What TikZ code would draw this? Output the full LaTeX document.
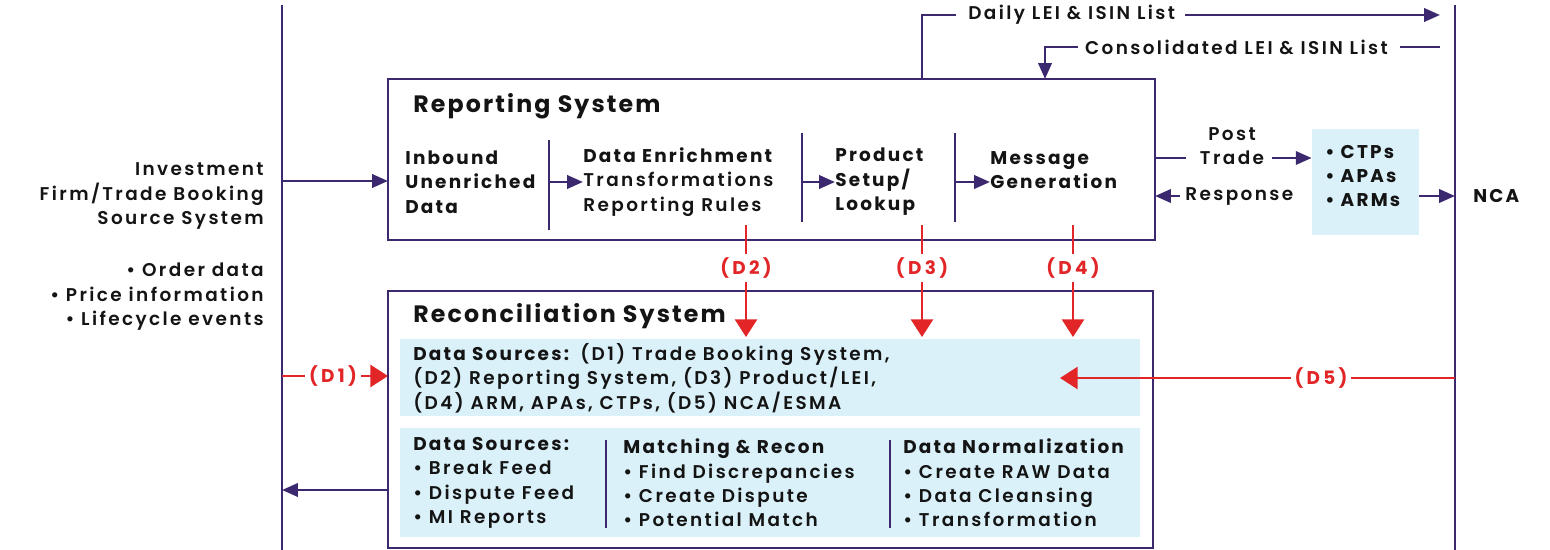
\documentclass[tikz,border=0pt]{standalone}
\usepackage{fontspec}
\setmainfont{Poppins}[UprightFont=* SemiBold, BoldFont=* Bold, UprightFeatures={LetterSpace=13}, BoldFeatures={LetterSpace=12}]
\newfontfamily\titlefont{Poppins Bold}[LetterSpace=9]
\newfontfamily\labelfont{Poppins Bold}[LetterSpace=18]
\usetikzlibrary{arrows.meta, positioning}
\definecolor{linepurple}{RGB}{60,40,110}
\definecolor{datared}{RGB}{226,38,40}
\definecolor{panelblue}{RGB}{218,241,249}
\definecolor{inkblack}{RGB}{20,20,20}

\begin{document}
\begin{tikzpicture}[x=0.02cm, y=-0.02cm,
  line/.style={draw=linepurple, line width=1.6pt},
  flow/.style={line, -{Triangle[length=9pt,width=7.5pt]}},
  redline/.style={draw=datared, line width=1.4pt},
  redflow/.style={redline, -{Triangle[length=10pt,width=12.5pt]}},
  sysbox/.style={draw=linepurple, line width=1.6pt, inner sep=0pt},
  panel/.style={fill=panelblue, inner sep=0pt},
  txt/.style={inner sep=0pt, align=left, text=inkblack, font=\fontsize{10.5}{13.9}\selectfont},
  btxt/.style={txt, font=\fontsize{10.5}{13.9}\selectfont\bfseries},
  title/.style={inner sep=0pt, text=inkblack, font=\fontsize{13.5}{16}\selectfont\titlefont},
  dlabel/.style={inner sep=2pt, text=datared, font=\fontsize{10.5}{13}\selectfont\labelfont}]
  \useasboundingbox (0,0) rectangle (1550,550);

  % side systems
  \draw[line] (282,5) -- (282,550);
  \draw[line] (1455,5) -- (1455,550);
  \node[txt, align=right, anchor=east] (firm) at (264,196) {Investment\\Firm/Trade Booking\\Source System};
  \node[txt, align=right, anchor=east] (firmdata) at (264,297) {• Order data\\• Price information\\• Lifecycle events};
  \node[btxt, anchor=west] (nca) at (1473,196) {NCA};

  % reporting system
  \node[sysbox, minimum width=15.34cm, minimum height=3.22cm] (rep) at (771.5,159.5) {};
  \node[title, anchor=west] (reptitle) at (413,106) {Reporting System};
  \node[btxt, anchor=west] (inbound) at (405,182) {Inbound\\Unenriched\\Data};
  \node[txt, anchor=west] (enrich) at (583,182) {\textbf{Data Enrichment}\\Transformations\\Reporting Rules};
  \node[btxt, anchor=west] (product) at (835,182) {Product\\Setup/\\Lookup};
  \node[btxt, anchor=west] (message) at (990,170) {Message\\Generation};
  \draw[line] (549,140) -- (549,230);
  \draw[line] (802,133) -- (802,222);
  \draw[line] (955,133) -- (955,222);
  \draw[flow] (549,182) -- (enrich.west);
  \draw[flow] (802,182) -- (product.west);
  \draw[flow] (955,182) -- (message.west |- 0,182);
  \draw[flow] (282,181) -- (388,181);

  % LEI and ISIN lists
  \node[txt, anchor=west] (daily) at (968,15) {Daily LEI \& ISIN List};
  \node[txt, anchor=east] (consol) at (1388,47) {Consolidated LEI \& ISIN List};
  \draw[line] (922,79) -- (922,15) -- ([xshift=-7]daily.west);
  \draw[flow] (daily.east) ++(10,0) -- (1440,15);
  \draw[line] (1440,47) -- ([xshift=7]consol.east);
  \draw[flow] ([xshift=-4]consol.west) -- (1045,47) -- (1045,79);

  % post trade
  \node[txt, align=center] (post) at (1232,146) {Post\\Trade};
  \node[txt, anchor=west] (resp) at (1185,196) {Response};
  \node[panel, minimum width=2.14cm, minimum height=2.12cm] (ctp) at (1365.5,182) {};
  \node[btxt, anchor=west] (ctptxt) at (1325,176) {• CTPs\\• APAs\\• ARMs};
  \draw[line] (1155,158) -- (1186,158);
  \draw[flow] (1272,158) -- (ctp.west |- 0,158);
  \draw[flow] ([xshift=-3]resp.west) -- (1155,196);
  \draw[flow] (ctp.east |- 0,196) -- (1455,196);

  % reconciliation system
  \node[sysbox, minimum width=15.3cm, minimum height=5.14cm] (rec) at (770.5,419.5) {};
  \node[title, anchor=west] (rectitle) at (413,316) {Reconciliation System};
  \node[panel, minimum width=14.8cm, minimum height=1.54cm] (src) at (770,377.5) {};
  \node[txt, anchor=west] (srctxt) at (413,378) {\textbf{Data Sources:} (D1) Trade Booking System,\\(D2) Reporting System, (D3) Product/LEI,\\(D4) ARM, APAs, CTPs, (D5) NCA/ESMA};
  \node[panel, minimum width=14.8cm, minimum height=2.18cm] (work) at (770,482.5) {};
  \node[txt, anchor=west] (feeds) at (413,483) {\textbf{Data Sources:}\\• Break Feed\\• Dispute Feed\\• MI Reports};
  \node[txt, anchor=west] (match) at (623,483) {\textbf{Matching \& Recon}\\• Find Discrepancies\\• Create Dispute\\• Potential Match};
  \node[txt, anchor=west] (norm) at (903,483) {\textbf{Data Normalization}\\• Create RAW Data\\• Data Cleansing\\• Transformation};
  \draw[line] (606,440) -- (606,528);
  \draw[line] (890,440) -- (890,528);
  \draw[flow] (388,490) -- (282,490);

  % data feeds
  \node[dlabel] (d1) at (333,376) {(D1)};
  \node[dlabel] (d2) at (746,268) {(D2)};
  \node[dlabel] (d3) at (922,268) {(D3)};
  \node[dlabel] (d4) at (1073,268) {(D4)};
  \node[dlabel] (d5) at (1321,378) {(D5)};
  \draw[redline] (282,376) -- (d1);
  \draw[redflow] (d1) -- (388,376);
  \draw[redline] (746,225) -- (d2);
  \draw[redflow] (d2) -- (746,337);
  \draw[redline] (922,225) -- (d3);
  \draw[redflow] (d3) -- (922,337);
  \draw[redline] (1073,225) -- (d4);
  \draw[redflow] (d4) -- (1073,337);
  \draw[redline] (1455,378) -- (d5);
  \draw[redflow] (d5) -- (1060,378);
\end{tikzpicture}
\end{document}
